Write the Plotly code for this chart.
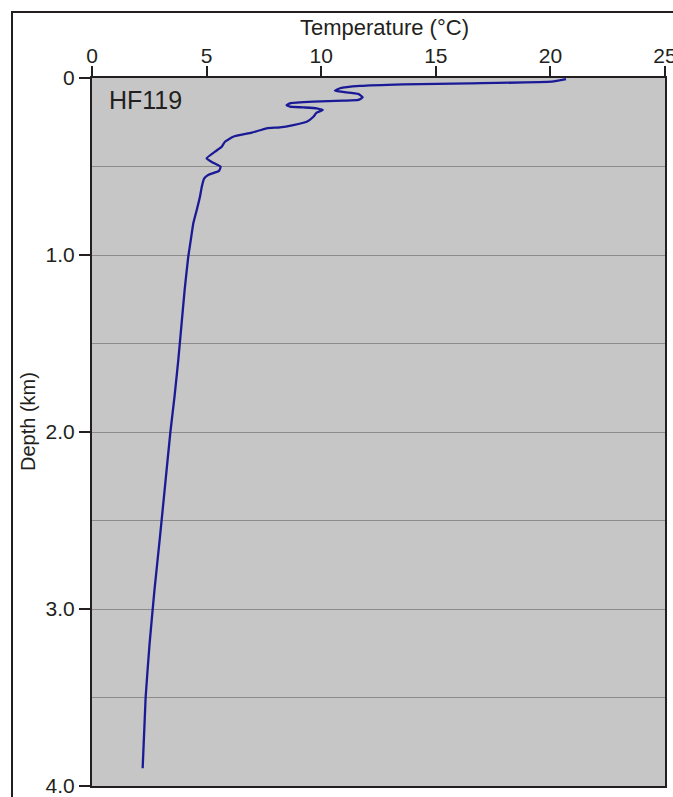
import plotly.graph_objects as go

# Temperature profile HF119
temperature_c = [20.68, 20.06, 16.49, 13.58, 11.69, 10.82, 10.60, 11.62, 11.81, 11.62,
                 10.96, 9.66, 8.64, 8.49, 8.64, 9.22, 9.80, 10.07, 9.80, 9.66,
                 9.37, 8.78, 8.20, 7.62, 6.97, 6.16, 5.80, 5.66, 5.37, 5.00,
                 5.29, 5.61, 5.54, 5.07, 4.89, 4.79, 4.71, 4.57, 4.42, 4.31,
                 4.20, 4.04, 3.90, 3.76, 3.60, 3.42, 3.19, 2.96, 2.72, 2.51,
                 2.34, 2.21]
depth_km = [0.007, 0.021, 0.030, 0.036, 0.045, 0.058, 0.072, 0.090, 0.109, 0.124,
            0.128, 0.134, 0.143, 0.153, 0.162, 0.166, 0.171, 0.181, 0.196, 0.219,
            0.247, 0.266, 0.279, 0.284, 0.309, 0.332, 0.360, 0.388, 0.416, 0.454,
            0.479, 0.501, 0.525, 0.548, 0.568, 0.614, 0.671, 0.746, 0.821, 0.915,
            1.010, 1.200, 1.400, 1.600, 1.800, 2.000, 2.300, 2.600, 2.900, 3.200,
            3.500, 3.900]

x_tickvals = [0, 5, 10, 15, 20, 25]
x_ticktext = ["0", "5", "10", "15", "20", "25"]
y_tickvals = [0, 1, 2, 3, 4]
y_ticktext = ["0", "1.0", "2.0", "3.0", "4.0"]
grid_depths = [0.5, 1.0, 1.5, 2.0, 2.5, 3.0, 3.5]

FONT = "Liberation Sans, Arial, sans-serif"
INK = "#231f20"

fig = go.Figure()
fig.add_trace(go.Scatter(
    x=temperature_c, y=depth_km, mode="lines",
    line=dict(color="#1a1a96", width=2.3, shape="spline", smoothing=0.4),
    showlegend=False, hoverinfo="skip",
))

fig.update_layout(
    width=673, height=797,
    margin=dict(l=92, r=8, t=78, b=11, autoexpand=False),
    paper_bgcolor="white",
    plot_bgcolor="#c6c6c6",
    font=dict(family=FONT, color=INK, size=21),
    xaxis=dict(
        side="top", range=[0, 25], tickmode="array",
        tickvals=x_tickvals, ticktext=x_ticktext,
        ticks="outside", ticklen=10, tickwidth=2, tickcolor=INK,
        showline=True, linecolor=INK, linewidth=2, mirror=True,
        showgrid=False, zeroline=False, ticklabeloverflow="allow",
        automargin=False, ticklabelstandoff=-5,
        tickfont=dict(size=21, family=FONT, color=INK),
    ),
    yaxis=dict(
        range=[4, 0], tickmode="array",
        tickvals=y_tickvals, ticktext=y_ticktext,
        ticks="outside", ticklen=11, tickwidth=2, tickcolor=INK,
        showline=True, linecolor=INK, linewidth=2, mirror=True,
        showgrid=False, zeroline=False, ticklabeloverflow="allow",
        automargin=False,
        tickfont=dict(size=21, family=FONT, color=INK),
        minor=dict(tickmode="array", tickvals=grid_depths, showgrid=True,
                   gridcolor="#8c8c8c", gridwidth=1, ticks=""),
    ),
    shapes=[dict(type="rect", xref="paper", yref="paper",
                 x0=-0.1396, x1=1.2, y0=-0.2, y1=1.0932,
                 line=dict(color=INK, width=2), layer="below")],
    annotations=[
        dict(text="Temperature (°C)", xref="paper", yref="paper",
             x=0.511, y=1.071, xanchor="center", yanchor="middle",
             showarrow=False, font=dict(size=22, family=FONT, color=INK)),
        dict(text="Depth (km)", xref="paper", yref="paper",
             x=-0.1117, y=0.5155, xanchor="center", yanchor="middle",
             textangle=-90, showarrow=False,
             font=dict(size=20, family=FONT, color=INK)),
        dict(text="HF119", xref="paper", yref="paper",
             x=0.0262, y=0.969, xanchor="left", yanchor="middle",
             showarrow=False, font=dict(size=25, family=FONT, color=INK)),
    ],
)

fig.write_html("out.html")
